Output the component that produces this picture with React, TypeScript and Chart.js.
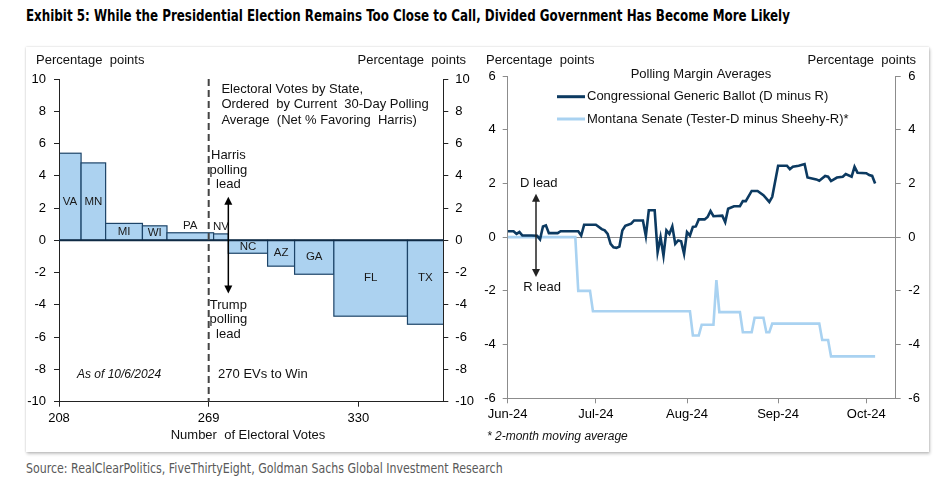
import React, { useEffect, useLayoutEffect, useRef, useState } from 'react';
import { Chart, registerables } from 'chart.js';
Chart.register(...registerables);

const SANS = "'Liberation Sans', Arial, Helvetica, sans-serif";
Chart.defaults.font.family = SANS;

// ---------- Left panel data ----------
const states = ['VA', 'MN', 'MI', 'WI', 'PA', 'NV', 'NC', 'AZ', 'GA', 'FL', 'TX'];
const electoralVotes = [13, 10, 15, 10, 19, 6, 16, 11, 16, 30, 40];
const pollMargins = [5.4, 4.8, 1.05, 0.9, 0.47, 0.4, -0.8, -1.6, -2.1, -4.7, -5.2];
const evStart = 204;
const evAxisMin = 208;
const evAxisMax = 364.6;
const evTicks = [208, 269, 330];
const winLine = 269;
const leftYMin = -10;
const leftYMax = 10;

// ---------- Right panel data (day offsets from Jun 1, 2024) ----------
const monthTickDays = [0, 30, 61, 92, 122];
const monthTickLabels = ['Jun-24', 'Jul-24', 'Aug-24', 'Sep-24', 'Oct-24'];
const dayAxisMax = 132;
const rightYMin = -6;
const rightYMax = 6;

const gbDays = [0, 2, 3, 4, 5, 8, 10, 11, 12, 13, 14, 17, 18, 24, 25, 26, 30, 32, 33, 34, 35, 36, 37, 38, 39, 40, 41, 42, 43, 46, 47, 48, 50, 51, 52, 53, 54, 55, 56, 57, 58, 59, 60, 61, 62, 63, 64, 65, 67, 68, 69, 70, 73, 74, 75, 77, 79, 80, 81, 83, 85, 87, 89, 90, 92, 95, 96, 97, 99, 101, 102, 105, 106, 108, 109, 110, 112, 114, 115, 117, 118, 119, 122, 123, 124, 125];
const gbValues = [0.22, 0.22, 0.12, 0.19, 0.06, 0.06, 0.05, -0.08, 0.4, 0.44, 0.15, 0.15, 0.22, 0.22, 0.06, 0.46, 0.46, 0.3, 0.25, 0.12, -0.25, -0.38, -0.4, -0.35, 0.25, 0.42, 0.46, 0.5, 0.62, 0.62, 0.04, 1.0, 1.0, -0.56, 0.0, -0.69, 0.25, 0.12, 0.4, -0.25, -0.12, -0.15, -0.62, 0.19, 0.06, 0.38, 0.4, 0.66, 0.66, 0.75, 0.97, 0.78, 0.8, 0.56, 1.06, 1.15, 1.15, 1.34, 1.34, 1.72, 1.72, 1.56, 1.31, 1.5, 2.66, 2.66, 2.53, 2.62, 2.66, 2.72, 2.22, 2.15, 2.1, 2.28, 2.25, 2.09, 2.22, 2.25, 2.35, 2.25, 2.62, 2.4, 2.38, 2.31, 2.28, 2.0];

const mtDays = [0, 23, 24, 28, 29, 62, 63, 65, 66, 70, 71, 72, 79, 80, 83, 84, 87, 88, 89, 90, 106, 107, 109, 110, 125];
const mtValues = [0, 0, -2.0, -2.0, -2.76, -2.76, -3.66, -3.66, -3.26, -3.26, -1.6, -2.79, -2.79, -3.54, -3.54, -3.0, -3.0, -3.54, -3.54, -3.22, -3.22, -3.83, -3.83, -4.44, -4.44];

const seriesNames = ['Congressional Generic Ballot (D minus R)', 'Montana Senate (Tester-D minus Sheehy-R)*'];
const seriesColors = ['#0c3a61', '#a9d2f1'];

const BAR_FILL = '#acd2f0';
const BAR_EDGE = '#1d4468';
const TEXT = '#111111';

function evBars() {
  let cum = evStart;
  return states.map((s, i) => {
    const x0 = cum;
    cum += electoralVotes[i];
    return { state: s, x0, x1: cum, v: pollMargins[i] };
  });
}

function drawDoubleArrow(ctx: CanvasRenderingContext2D, x: number, yTop: number, yBot: number, color: string) {
  const hl = 8, hw = 4;
  ctx.save();
  ctx.strokeStyle = color;
  ctx.fillStyle = color;
  ctx.lineWidth = 1.5;
  ctx.beginPath();
  ctx.moveTo(x, yTop + hl - 1);
  ctx.lineTo(x, yBot - hl + 1);
  ctx.stroke();
  ctx.beginPath();
  ctx.moveTo(x, yTop);
  ctx.lineTo(x - hw, yTop + hl);
  ctx.lineTo(x + hw, yTop + hl);
  ctx.closePath();
  ctx.fill();
  ctx.beginPath();
  ctx.moveTo(x, yBot);
  ctx.lineTo(x - hw, yBot - hl);
  ctx.lineTo(x + hw, yBot - hl);
  ctx.closePath();
  ctx.fill();
  ctx.restore();
}

function text(ctx: CanvasRenderingContext2D, s: string, x: number, y: number, align: CanvasTextAlign = 'left', font = `13px ${SANS}`, color = TEXT) {
  ctx.save();
  ctx.font = font;
  ctx.fillStyle = color;
  ctx.textAlign = align;
  ctx.textBaseline = 'middle';
  ctx.fillText(s, x, y);
  ctx.restore();
}

const leftPlugin = {
  id: 'evBars',
  beforeDraw(chart: any) {
    const { ctx, chartArea: a, scales } = chart;
    const x = scales.x, y = scales.y;
    const bars = evBars();
    ctx.save();
    ctx.beginPath();
    ctx.rect(a.left, a.top, a.right - a.left, a.bottom - a.top);
    ctx.clip();
    const y0 = y.getPixelForValue(0);
    bars.forEach((b) => {
      const px0 = x.getPixelForValue(b.x0);
      const px1 = x.getPixelForValue(b.x1);
      const py = y.getPixelForValue(b.v);
      const top = Math.min(py, y0), h = Math.abs(py - y0);
      ctx.fillStyle = BAR_FILL;
      ctx.fillRect(px0, top, px1 - px0, h);
      ctx.strokeStyle = BAR_EDGE;
      ctx.lineWidth = 1.2;
      ctx.strokeRect(px0, top, px1 - px0, h);
    });
    // labels
    bars.forEach((b) => {
      const cx = (Math.max(b.x0, evAxisMin) + Math.min(b.x1, evAxisMax)) / 2;
      let ly: number;
      if (b.v > 0) ly = b.v < 0.6 ? b.v + 0.45 : Math.min(b.v / 2, 2.4);
      else ly = Math.max(b.v / 2, -2.3);
      text(ctx, b.state, x.getPixelForValue(cx), y.getPixelForValue(ly), 'center', `11.5px ${SANS}`, '#1a1a1a');
    });
    ctx.restore();
  },
  afterDraw(chart: any) {
    const { ctx, chartArea: a, scales } = chart;
    const x = scales.x, y = scales.y;
    const y0 = y.getPixelForValue(0);
    // zero line
    ctx.save();
    ctx.strokeStyle = '#0f2a44';
    ctx.lineWidth = 2;
    ctx.beginPath();
    ctx.moveTo(a.left, y0);
    ctx.lineTo(a.right, y0);
    ctx.stroke();
    // 270 dashed line
    const xw = x.getPixelForValue(winLine);
    ctx.strokeStyle = '#444';
    ctx.lineWidth = 2;
    ctx.setLineDash([7, 4]);
    ctx.beginPath();
    ctx.moveTo(xw, a.top);
    ctx.lineTo(xw, a.bottom);
    ctx.stroke();
    ctx.restore();

    // arrow at the sign change
    const bars = evBars();
    const firstNeg = bars.find((b) => b.v < 0)!;
    const xa = x.getPixelForValue(firstNeg.x0);
    const yTop = y.getPixelForValue(2.7);
    const yBot = y.getPixelForValue(-3.3);
    drawDoubleArrow(ctx, xa, yTop, yBot, '#000');
    ['Harris', 'polling', 'lead'].forEach((s, i) => text(ctx, s, xa, yTop - 41 + i * 14.5, 'center'));
    ['Trump', 'polling', 'lead'].forEach((s, i) => text(ctx, s, xa, yBot + 12 + i * 14.3, 'center'));

    ['Electoral Votes by State,', 'Ordered  by Current  30-Day Polling', 'Average  (Net % Favoring  Harris)'].forEach((s, i) =>
      text(ctx, s, xw + 12.7, a.top + 10 + i * 15.5)
    );
    text(ctx, 'As of 10/6/2024', a.left + 18, a.bottom - 27.5, 'left', `italic 12px ${SANS}`);
    text(ctx, '270 EVs to Win', xw + 9.4, a.bottom - 27.5);
    text(ctx, 'Percentage  points', 10, 13.7);
    text(ctx, 'Percentage  points', 440, 13.7, 'right');
    text(ctx, 'Number  of Electoral Votes', 222, 388, 'center');
  },
};

const rightPlugin = {
  id: 'rightDecor',
  beforeDatasetsDraw(chart: any) {
    const { ctx, chartArea: a, scales } = chart;
    const y0 = Math.round(scales.y.getPixelForValue(0)) + 0.5;
    ctx.save();
    ctx.strokeStyle = '#8c8c8c';
    ctx.lineWidth = 1;
    ctx.beginPath();
    ctx.moveTo(a.left, y0);
    ctx.lineTo(a.right, y0);
    ctx.stroke();
    ctx.restore();
  },
  afterDraw(chart: any) {
    const { ctx, chartArea: a, scales } = chart;
    const y = scales.y;
    text(ctx, 'Percentage  points', 10, 13.7);
    text(ctx, 'Percentage  points', 440, 13.7, 'right');
    text(ctx, 'Polling Margin Averages', 225, 27.3, 'center');
    seriesNames.forEach((n, i) => {
      const ly = 49.7 + i * 22.3;
      ctx.save();
      ctx.strokeStyle = seriesColors[i];
      ctx.lineWidth = 3;
      ctx.beginPath();
      ctx.moveTo(81, ly);
      ctx.lineTo(109, ly);
      ctx.stroke();
      ctx.restore();
      text(ctx, n, 111, ly);
    });
    const xa = a.left + 28.3;
    const yTop = y.getPixelForValue(1.62);
    const yBot = y.getPixelForValue(-1.48);
    drawDoubleArrow(ctx, xa, yTop, yBot, '#222');
    text(ctx, 'D lead', xa - 16, yTop - 10);
    text(ctx, 'R lead', xa - 12.7, yBot + 10.6);
    text(ctx, '* 2-month moving average', 11, 389.7, 'left', `italic 12px ${SANS}`);
  },
};

function axisCommon(color: string) {
  return {
    grid: { drawOnChartArea: false, tickLength: 5, color, tickColor: color },
    border: { color, width: 1 },
  };
}

function LeftChart() {
  const ref = useRef<HTMLCanvasElement>(null);
  useEffect(() => {
    const bars = evBars();
    const tickFont = { family: SANS, size: 13 };
    const chart = new Chart(ref.current!, {
      type: 'scatter',
      data: {
        datasets: [{ data: bars.map((b) => ({ x: (b.x0 + b.x1) / 2, y: b.v })), pointRadius: 0, showLine: false }],
      },
      options: {
        animation: false,
        responsive: false,
        events: [],
        layout: { padding: { top: 32, left: 0, right: 0, bottom: 0 } },
        plugins: { legend: { display: false }, tooltip: { enabled: false } },
        scales: {
          x: {
            type: 'linear',
            position: 'bottom',
            min: evAxisMin,
            max: evAxisMax,
            afterBuildTicks: (s: any) => { s.ticks = evTicks.map((v) => ({ value: v })); },
            afterFit: (s: any) => { s.height = 50.3; },
            ...axisCommon('#222'),
            ticks: { padding: 4, color: '#000', font: tickFont, maxRotation: 0, autoSkip: false, callback: (v: any) => String(v) },
          },
          y: {
            position: 'left',
            min: leftYMin,
            max: leftYMax,
            afterFit: (s: any) => { s.width = 33; },
            ...axisCommon('#222'),
            ticks: { stepSize: 2, padding: 8, color: '#000', font: tickFont },
          },
          y2: {
            position: 'right',
            min: leftYMin,
            max: leftYMax,
            afterFit: (s: any) => { s.width = 32.7; },
            ...axisCommon('#222'),
            ticks: { stepSize: 2, padding: 7, color: '#000', font: tickFont },
          },
        },
      } as any,
      plugins: [leftPlugin],
    });
    return () => chart.destroy();
  }, []);
  return <canvas ref={ref} width={450} height={405} style={{ position: 'absolute', left: 26, top: 47, width: 450, height: 405 }} />;
}

function RightChart() {
  const ref = useRef<HTMLCanvasElement>(null);
  useEffect(() => {
    const tickFont = { family: SANS, size: 13 };
    const chart = new Chart(ref.current!, {
      type: 'line',
      data: {
        datasets: [
          {
            label: seriesNames[0],
            data: gbDays.map((d, i) => ({ x: d, y: gbValues[i] })),
            borderColor: seriesColors[0],
            borderWidth: 2.6,
            pointRadius: 0,
            tension: 0,
          },
          {
            label: seriesNames[1],
            data: mtDays.map((d, i) => ({ x: d, y: mtValues[i] })),
            borderColor: seriesColors[1],
            borderWidth: 2.6,
            pointRadius: 0,
            tension: 0,
          },
        ],
      },
      options: {
        animation: false,
        responsive: false,
        events: [],
        layout: { padding: { top: 29, left: 0, right: 0, bottom: 0 } },
        plugins: { legend: { display: false }, tooltip: { enabled: false } },
        scales: {
          x: {
            type: 'linear',
            position: 'bottom',
            min: 0,
            max: dayAxisMax,
            afterBuildTicks: (s: any) => { s.ticks = monthTickDays.map((v) => ({ value: v })); },
            afterFit: (s: any) => { s.height = 53.7; },
            ...axisCommon('#8c8c8c'),
            ticks: {
              padding: 3,
              color: '#000',
              font: tickFont,
              maxRotation: 0,
              autoSkip: false,
              callback: (v: any) => monthTickLabels[monthTickDays.indexOf(Number(v))] ?? '',
            },
          },
          y: {
            position: 'left',
            min: rightYMin,
            max: rightYMax,
            afterFit: (s: any) => { s.width = 31.7; },
            ...axisCommon('#8c8c8c'),
            ticks: { stepSize: 2, padding: 7, color: '#000', font: tickFont },
          },
          y2: {
            position: 'right',
            min: rightYMin,
            max: rightYMax,
            afterFit: (s: any) => { s.width = 33.3; },
            ...axisCommon('#8c8c8c'),
            ticks: { stepSize: 2, padding: 7.6, color: '#000', font: tickFont },
          },
        },
      } as any,
      plugins: [rightPlugin],
    });
    return () => chart.destroy();
  }, []);
  return <canvas ref={ref} width={453} height={405} style={{ position: 'absolute', left: 476, top: 47, width: 453, height: 405 }} />;
}

function FitText(props: { text: string; width: number; left: number; top: number; style: React.CSSProperties }) {
  const ref = useRef<HTMLSpanElement>(null);
  const [scale, setScale] = useState(1);
  useLayoutEffect(() => {
    if (ref.current) {
      const w = ref.current.offsetWidth;
      if (w > 0) setScale(props.width / w);
    }
  }, []);
  return (
    <span
      ref={ref}
      style={{
        position: 'absolute',
        left: props.left,
        top: props.top,
        whiteSpace: 'nowrap',
        display: 'inline-block',
        transform: `scaleX(${scale})`,
        transformOrigin: 'left top',
        ...props.style,
      }}
    >
      {props.text}
    </span>
  );
}

const CONDENSED = "'Liberation Sans Narrow', 'DejaVu Sans Condensed', 'Liberation Sans', Arial, sans-serif";

export default function App() {
  return (
    <div style={{ position: 'absolute', left: 0, top: 0, width: 942, height: 482, background: '#fff', overflow: 'hidden' }}>
      <FitText
        text="Exhibit 5: While the Presidential Election Remains Too Close to Call, Divided Government Has Become More Likely"
        width={764}
        left={26}
        top={6}
        style={{ fontFamily: CONDENSED, fontWeight: 'bold', fontSize: 16, lineHeight: '20px', color: '#000', fontStretch: 'condensed' }}
      />
      <div
        style={{
          position: 'absolute',
          left: 26,
          top: 47,
          width: 903,
          height: 405,
          background: '#fff',
          boxShadow: '0 0 2px rgba(0,0,0,0.18), 1px 2px 3px rgba(0,0,0,0.22)',
        }}
      />
      <LeftChart />
      <RightChart />
      <FitText
        text="Source: RealClearPolitics, FiveThirtyEight, Goldman Sachs Global Investment Research"
        width={477}
        left={26}
        top={459}
        style={{ fontFamily: CONDENSED, fontSize: 14, lineHeight: '18px', color: '#595959', fontStretch: 'condensed' }}
      />
    </div>
  );
}
